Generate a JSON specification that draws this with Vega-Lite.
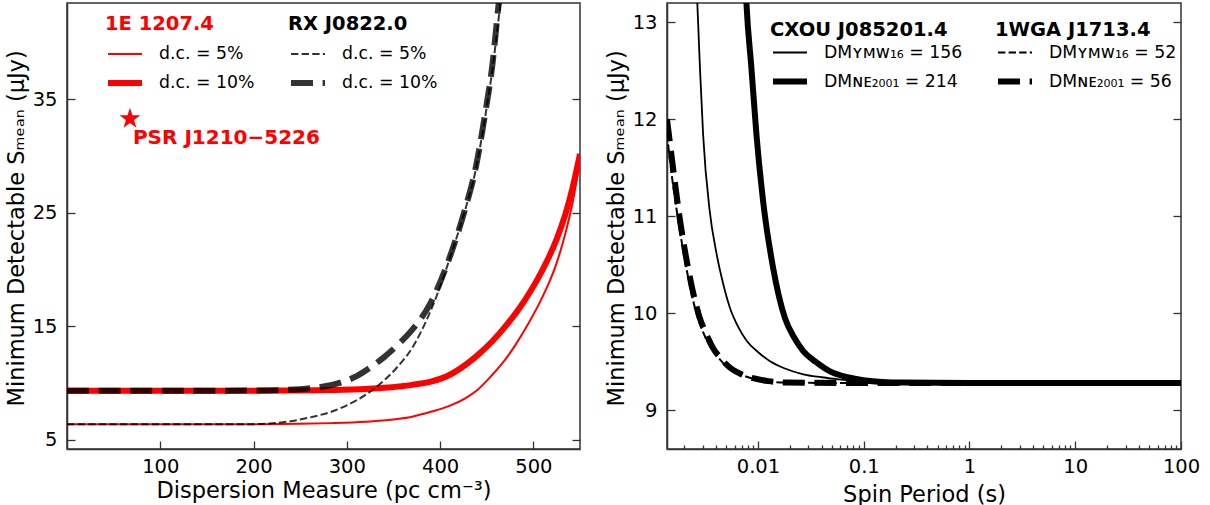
{
  "$schema": "https://vega.github.io/schema/vega-lite/v6.json",
  "padding": {"top": 2, "left": 4, "right": 0, "bottom": 0},
  "spacing": 22,
  "datasets": {
    "left": [
      {"src": "1E 1207.4", "dc": "d.c. = 5%", "dm": 0, "s": 6.37},
      {"src": "1E 1207.4", "dc": "d.c. = 5%", "dm": 100, "s": 6.37},
      {"src": "1E 1207.4", "dc": "d.c. = 5%", "dm": 200, "s": 6.38},
      {"src": "1E 1207.4", "dc": "d.c. = 5%", "dm": 250, "s": 6.42},
      {"src": "1E 1207.4", "dc": "d.c. = 5%", "dm": 284, "s": 6.48},
      {"src": "1E 1207.4", "dc": "d.c. = 5%", "dm": 320, "s": 6.6},
      {"src": "1E 1207.4", "dc": "d.c. = 5%", "dm": 350, "s": 6.8},
      {"src": "1E 1207.4", "dc": "d.c. = 5%", "dm": 370, "s": 7.05},
      {"src": "1E 1207.4", "dc": "d.c. = 5%", "dm": 391, "s": 7.5},
      {"src": "1E 1207.4", "dc": "d.c. = 5%", "dm": 410, "s": 8.0},
      {"src": "1E 1207.4", "dc": "d.c. = 5%", "dm": 427, "s": 8.67},
      {"src": "1E 1207.4", "dc": "d.c. = 5%", "dm": 440, "s": 9.4},
      {"src": "1E 1207.4", "dc": "d.c. = 5%", "dm": 456, "s": 10.74},
      {"src": "1E 1207.4", "dc": "d.c. = 5%", "dm": 470, "s": 12.1},
      {"src": "1E 1207.4", "dc": "d.c. = 5%", "dm": 481, "s": 13.4},
      {"src": "1E 1207.4", "dc": "d.c. = 5%", "dm": 490, "s": 14.6},
      {"src": "1E 1207.4", "dc": "d.c. = 5%", "dm": 498, "s": 15.75},
      {"src": "1E 1207.4", "dc": "d.c. = 5%", "dm": 508, "s": 17.3},
      {"src": "1E 1207.4", "dc": "d.c. = 5%", "dm": 516, "s": 18.7},
      {"src": "1E 1207.4", "dc": "d.c. = 5%", "dm": 525, "s": 20.6},
      {"src": "1E 1207.4", "dc": "d.c. = 5%", "dm": 534, "s": 23.1},
      {"src": "1E 1207.4", "dc": "d.c. = 5%", "dm": 542, "s": 25.9},
      {"src": "1E 1207.4", "dc": "d.c. = 5%", "dm": 550, "s": 29.6},
      {"src": "1E 1207.4", "dc": "d.c. = 10%", "dm": 0, "s": 9.33},
      {"src": "1E 1207.4", "dc": "d.c. = 10%", "dm": 100, "s": 9.33},
      {"src": "1E 1207.4", "dc": "d.c. = 10%", "dm": 200, "s": 9.34},
      {"src": "1E 1207.4", "dc": "d.c. = 10%", "dm": 250, "s": 9.36},
      {"src": "1E 1207.4", "dc": "d.c. = 10%", "dm": 284, "s": 9.4},
      {"src": "1E 1207.4", "dc": "d.c. = 10%", "dm": 320, "s": 9.49},
      {"src": "1E 1207.4", "dc": "d.c. = 10%", "dm": 345, "s": 9.62},
      {"src": "1E 1207.4", "dc": "d.c. = 10%", "dm": 370, "s": 9.85},
      {"src": "1E 1207.4", "dc": "d.c. = 10%", "dm": 391, "s": 10.15},
      {"src": "1E 1207.4", "dc": "d.c. = 10%", "dm": 410, "s": 10.72},
      {"src": "1E 1207.4", "dc": "d.c. = 10%", "dm": 427, "s": 11.6},
      {"src": "1E 1207.4", "dc": "d.c. = 10%", "dm": 440, "s": 12.45},
      {"src": "1E 1207.4", "dc": "d.c. = 10%", "dm": 456, "s": 13.69},
      {"src": "1E 1207.4", "dc": "d.c. = 10%", "dm": 470, "s": 15.0},
      {"src": "1E 1207.4", "dc": "d.c. = 10%", "dm": 481, "s": 16.15},
      {"src": "1E 1207.4", "dc": "d.c. = 10%", "dm": 490, "s": 17.2},
      {"src": "1E 1207.4", "dc": "d.c. = 10%", "dm": 498, "s": 18.25},
      {"src": "1E 1207.4", "dc": "d.c. = 10%", "dm": 508, "s": 19.7},
      {"src": "1E 1207.4", "dc": "d.c. = 10%", "dm": 516, "s": 21.0},
      {"src": "1E 1207.4", "dc": "d.c. = 10%", "dm": 525, "s": 22.7},
      {"src": "1E 1207.4", "dc": "d.c. = 10%", "dm": 534, "s": 24.8},
      {"src": "1E 1207.4", "dc": "d.c. = 10%", "dm": 542, "s": 27.2},
      {"src": "1E 1207.4", "dc": "d.c. = 10%", "dm": 550, "s": 30.2},
      {"src": "RX J0822.0", "dc": "d.c. = 5%", "dm": 0, "s": 6.37},
      {"src": "RX J0822.0", "dc": "d.c. = 5%", "dm": 100, "s": 6.37},
      {"src": "RX J0822.0", "dc": "d.c. = 5%", "dm": 200, "s": 6.39},
      {"src": "RX J0822.0", "dc": "d.c. = 5%", "dm": 220, "s": 6.46},
      {"src": "RX J0822.0", "dc": "d.c. = 5%", "dm": 245, "s": 6.72},
      {"src": "RX J0822.0", "dc": "d.c. = 5%", "dm": 265, "s": 7.07},
      {"src": "RX J0822.0", "dc": "d.c. = 5%", "dm": 284, "s": 7.5},
      {"src": "RX J0822.0", "dc": "d.c. = 5%", "dm": 300, "s": 8.05},
      {"src": "RX J0822.0", "dc": "d.c. = 5%", "dm": 320, "s": 8.97},
      {"src": "RX J0822.0", "dc": "d.c. = 5%", "dm": 340, "s": 10.25},
      {"src": "RX J0822.0", "dc": "d.c. = 5%", "dm": 355, "s": 11.5},
      {"src": "RX J0822.0", "dc": "d.c. = 5%", "dm": 370, "s": 13.1},
      {"src": "RX J0822.0", "dc": "d.c. = 5%", "dm": 380, "s": 14.6},
      {"src": "RX J0822.0", "dc": "d.c. = 5%", "dm": 390, "s": 16.4},
      {"src": "RX J0822.0", "dc": "d.c. = 5%", "dm": 400, "s": 18.5},
      {"src": "RX J0822.0", "dc": "d.c. = 5%", "dm": 412, "s": 21.4},
      {"src": "RX J0822.0", "dc": "d.c. = 5%", "dm": 427, "s": 25.3},
      {"src": "RX J0822.0", "dc": "d.c. = 5%", "dm": 438, "s": 28.7},
      {"src": "RX J0822.0", "dc": "d.c. = 5%", "dm": 448, "s": 33.3},
      {"src": "RX J0822.0", "dc": "d.c. = 5%", "dm": 456, "s": 37.6},
      {"src": "RX J0822.0", "dc": "d.c. = 5%", "dm": 464, "s": 43.0},
      {"src": "RX J0822.0", "dc": "d.c. = 5%", "dm": 468, "s": 45.8},
      {"src": "RX J0822.0", "dc": "d.c. = 10%", "dm": 0, "s": 9.33},
      {"src": "RX J0822.0", "dc": "d.c. = 10%", "dm": 100, "s": 9.33},
      {"src": "RX J0822.0", "dc": "d.c. = 10%", "dm": 200, "s": 9.35},
      {"src": "RX J0822.0", "dc": "d.c. = 10%", "dm": 230, "s": 9.39},
      {"src": "RX J0822.0", "dc": "d.c. = 10%", "dm": 250, "s": 9.47},
      {"src": "RX J0822.0", "dc": "d.c. = 10%", "dm": 270, "s": 9.64},
      {"src": "RX J0822.0", "dc": "d.c. = 10%", "dm": 284, "s": 9.85},
      {"src": "RX J0822.0", "dc": "d.c. = 10%", "dm": 295, "s": 10.1},
      {"src": "RX J0822.0", "dc": "d.c. = 10%", "dm": 310, "s": 10.6},
      {"src": "RX J0822.0", "dc": "d.c. = 10%", "dm": 320, "s": 11.1},
      {"src": "RX J0822.0", "dc": "d.c. = 10%", "dm": 340, "s": 12.3},
      {"src": "RX J0822.0", "dc": "d.c. = 10%", "dm": 355, "s": 13.4},
      {"src": "RX J0822.0", "dc": "d.c. = 10%", "dm": 370, "s": 14.7},
      {"src": "RX J0822.0", "dc": "d.c. = 10%", "dm": 380, "s": 15.75},
      {"src": "RX J0822.0", "dc": "d.c. = 10%", "dm": 390, "s": 17.1},
      {"src": "RX J0822.0", "dc": "d.c. = 10%", "dm": 398, "s": 18.5},
      {"src": "RX J0822.0", "dc": "d.c. = 10%", "dm": 412, "s": 21.5},
      {"src": "RX J0822.0", "dc": "d.c. = 10%", "dm": 427, "s": 25.4},
      {"src": "RX J0822.0", "dc": "d.c. = 10%", "dm": 438, "s": 28.9},
      {"src": "RX J0822.0", "dc": "d.c. = 10%", "dm": 448, "s": 33.6},
      {"src": "RX J0822.0", "dc": "d.c. = 10%", "dm": 456, "s": 38.0},
      {"src": "RX J0822.0", "dc": "d.c. = 10%", "dm": 463, "s": 43.6},
      {"src": "RX J0822.0", "dc": "d.c. = 10%", "dm": 467, "s": 46.5}
    ],
    "star": [
      {"name": "PSR J1210−5226", "dm": 67.5, "s": 33.3}
    ],
    "right": [
      {"src": "CXOU J085201.4", "model": "DMʏᴍᴡ₁₆ = 156", "p": 0.0026, "s": 13.6},
      {"src": "CXOU J085201.4", "model": "DMʏᴍᴡ₁₆ = 156", "p": 0.00267, "s": 13.2},
      {"src": "CXOU J085201.4", "model": "DMʏᴍᴡ₁₆ = 156", "p": 0.00285, "s": 12.45},
      {"src": "CXOU J085201.4", "model": "DMʏᴍᴡ₁₆ = 156", "p": 0.00303, "s": 11.84},
      {"src": "CXOU J085201.4", "model": "DMʏᴍᴡ₁₆ = 156", "p": 0.0035, "s": 11.05},
      {"src": "CXOU J085201.4", "model": "DMʏᴍᴡ₁₆ = 156", "p": 0.00405, "s": 10.62},
      {"src": "CXOU J085201.4", "model": "DMʏᴍᴡ₁₆ = 156", "p": 0.0047, "s": 10.3},
      {"src": "CXOU J085201.4", "model": "DMʏᴍᴡ₁₆ = 156", "p": 0.00542, "s": 10.06},
      {"src": "CXOU J085201.4", "model": "DMʏᴍᴡ₁₆ = 156", "p": 0.0065, "s": 9.86},
      {"src": "CXOU J085201.4", "model": "DMʏᴍᴡ₁₆ = 156", "p": 0.00778, "s": 9.72},
      {"src": "CXOU J085201.4", "model": "DMʏᴍᴡ₁₆ = 156", "p": 0.01, "s": 9.6},
      {"src": "CXOU J085201.4", "model": "DMʏᴍᴡ₁₆ = 156", "p": 0.013, "s": 9.505},
      {"src": "CXOU J085201.4", "model": "DMʏᴍᴡ₁₆ = 156", "p": 0.018, "s": 9.43},
      {"src": "CXOU J085201.4", "model": "DMʏᴍᴡ₁₆ = 156", "p": 0.0268, "s": 9.37},
      {"src": "CXOU J085201.4", "model": "DMʏᴍᴡ₁₆ = 156", "p": 0.04, "s": 9.34},
      {"src": "CXOU J085201.4", "model": "DMʏᴍᴡ₁₆ = 156", "p": 0.0554, "s": 9.32},
      {"src": "CXOU J085201.4", "model": "DMʏᴍᴡ₁₆ = 156", "p": 0.1, "s": 9.3},
      {"src": "CXOU J085201.4", "model": "DMʏᴍᴡ₁₆ = 156", "p": 0.3, "s": 9.285},
      {"src": "CXOU J085201.4", "model": "DMʏᴍᴡ₁₆ = 156", "p": 1, "s": 9.28},
      {"src": "CXOU J085201.4", "model": "DMʏᴍᴡ₁₆ = 156", "p": 100, "s": 9.28},
      {"src": "CXOU J085201.4", "model": "DMɴᴇ₂₀₀₁ = 214", "p": 0.0075, "s": 13.6},
      {"src": "CXOU J085201.4", "model": "DMɴᴇ₂₀₀₁ = 214", "p": 0.00778, "s": 13.2},
      {"src": "CXOU J085201.4", "model": "DMɴᴇ₂₀₀₁ = 214", "p": 0.00867, "s": 12.53},
      {"src": "CXOU J085201.4", "model": "DMɴᴇ₂₀₀₁ = 214", "p": 0.00968, "s": 11.84},
      {"src": "CXOU J085201.4", "model": "DMɴᴇ₂₀₀₁ = 214", "p": 0.0112, "s": 11.15},
      {"src": "CXOU J085201.4", "model": "DMɴᴇ₂₀₀₁ = 214", "p": 0.0139, "s": 10.47},
      {"src": "CXOU J085201.4", "model": "DMɴᴇ₂₀₀₁ = 214", "p": 0.018, "s": 9.95},
      {"src": "CXOU J085201.4", "model": "DMɴᴇ₂₀₀₁ = 214", "p": 0.022, "s": 9.75},
      {"src": "CXOU J085201.4", "model": "DMɴᴇ₂₀₀₁ = 214", "p": 0.0268, "s": 9.61},
      {"src": "CXOU J085201.4", "model": "DMɴᴇ₂₀₀₁ = 214", "p": 0.035, "s": 9.5},
      {"src": "CXOU J085201.4", "model": "DMɴᴇ₂₀₀₁ = 214", "p": 0.048, "s": 9.4},
      {"src": "CXOU J085201.4", "model": "DMɴᴇ₂₀₀₁ = 214", "p": 0.07, "s": 9.34},
      {"src": "CXOU J085201.4", "model": "DMɴᴇ₂₀₀₁ = 214", "p": 0.099, "s": 9.31},
      {"src": "CXOU J085201.4", "model": "DMɴᴇ₂₀₀₁ = 214", "p": 0.237, "s": 9.285},
      {"src": "CXOU J085201.4", "model": "DMɴᴇ₂₀₀₁ = 214", "p": 1, "s": 9.28},
      {"src": "CXOU J085201.4", "model": "DMɴᴇ₂₀₀₁ = 214", "p": 100, "s": 9.28},
      {"src": "1WGA J1713.4", "model": "DMʏᴍᴡ₁₆ = 52", "p": 0.00138, "s": 11.85},
      {"src": "1WGA J1713.4", "model": "DMʏᴍᴡ₁₆ = 52", "p": 0.0015, "s": 11.5},
      {"src": "1WGA J1713.4", "model": "DMʏᴍᴡ₁₆ = 52", "p": 0.00175, "s": 10.98},
      {"src": "1WGA J1713.4", "model": "DMʏᴍᴡ₁₆ = 52", "p": 0.0021, "s": 10.47},
      {"src": "1WGA J1713.4", "model": "DMʏᴍᴡ₁₆ = 52", "p": 0.0027, "s": 9.95},
      {"src": "1WGA J1713.4", "model": "DMʏᴍᴡ₁₆ = 52", "p": 0.0031, "s": 9.78},
      {"src": "1WGA J1713.4", "model": "DMʏᴍᴡ₁₆ = 52", "p": 0.0036, "s": 9.64},
      {"src": "1WGA J1713.4", "model": "DMʏᴍᴡ₁₆ = 52", "p": 0.0044, "s": 9.52},
      {"src": "1WGA J1713.4", "model": "DMʏᴍᴡ₁₆ = 52", "p": 0.0052, "s": 9.44},
      {"src": "1WGA J1713.4", "model": "DMʏᴍᴡ₁₆ = 52", "p": 0.0068, "s": 9.37},
      {"src": "1WGA J1713.4", "model": "DMʏᴍᴡ₁₆ = 52", "p": 0.0087, "s": 9.33},
      {"src": "1WGA J1713.4", "model": "DMʏᴍᴡ₁₆ = 52", "p": 0.012, "s": 9.3},
      {"src": "1WGA J1713.4", "model": "DMʏᴍᴡ₁₆ = 52", "p": 0.018, "s": 9.285},
      {"src": "1WGA J1713.4", "model": "DMʏᴍᴡ₁₆ = 52", "p": 0.1, "s": 9.28},
      {"src": "1WGA J1713.4", "model": "DMʏᴍᴡ₁₆ = 52", "p": 100, "s": 9.28},
      {"src": "1WGA J1713.4", "model": "DMɴᴇ₂₀₀₁ = 56", "p": 0.00138, "s": 12.0},
      {"src": "1WGA J1713.4", "model": "DMɴᴇ₂₀₀₁ = 56", "p": 0.001413, "s": 11.91},
      {"src": "1WGA J1713.4", "model": "DMɴᴇ₂₀₀₁ = 56", "p": 0.001574, "s": 11.5},
      {"src": "1WGA J1713.4", "model": "DMɴᴇ₂₀₀₁ = 56", "p": 0.00182, "s": 10.98},
      {"src": "1WGA J1713.4", "model": "DMɴᴇ₂₀₀₁ = 56", "p": 0.00218, "s": 10.47},
      {"src": "1WGA J1713.4", "model": "DMɴᴇ₂₀₀₁ = 56", "p": 0.00282, "s": 9.95},
      {"src": "1WGA J1713.4", "model": "DMɴᴇ₂₀₀₁ = 56", "p": 0.0032, "s": 9.8},
      {"src": "1WGA J1713.4", "model": "DMɴᴇ₂₀₀₁ = 56", "p": 0.00377, "s": 9.64},
      {"src": "1WGA J1713.4", "model": "DMɴᴇ₂₀₀₁ = 56", "p": 0.0045, "s": 9.53},
      {"src": "1WGA J1713.4", "model": "DMɴᴇ₂₀₀₁ = 56", "p": 0.00542, "s": 9.44},
      {"src": "1WGA J1713.4", "model": "DMɴᴇ₂₀₀₁ = 56", "p": 0.007, "s": 9.37},
      {"src": "1WGA J1713.4", "model": "DMɴᴇ₂₀₀₁ = 56", "p": 0.009, "s": 9.33},
      {"src": "1WGA J1713.4", "model": "DMɴᴇ₂₀₀₁ = 56", "p": 0.0125, "s": 9.3},
      {"src": "1WGA J1713.4", "model": "DMɴᴇ₂₀₀₁ = 56", "p": 0.0186, "s": 9.285},
      {"src": "1WGA J1713.4", "model": "DMɴᴇ₂₀₀₁ = 56", "p": 0.1, "s": 9.28},
      {"src": "1WGA J1713.4", "model": "DMɴᴇ₂₀₀₁ = 56", "p": 100, "s": 9.28}
    ]
  },
  "hconcat": [
    {
      "width": 513,
      "height": 446,
      "layer": [
        {
          "data": {"name": "left"},
          "transform": [{"filter": "datum.src === '1E 1207.4'"}],
          "mark": {"type": "line", "color": "#ff0000", "clip": true, "interpolate": "monotone"},
          "encoding": {
            "x": {"field": "dm", "type": "quantitative", "scale": {"domain": [0, 550], "nice": false, "zero": false},
                  "axis": {"values": [100, 200, 300, 400, 500], "title": "Dispersion Measure (pc cm⁻³)", "tickSize": -8, "labelPadding": 16, "titlePadding": 4}},
            "y": {"field": "s", "type": "quantitative", "scale": {"domain": [4.2, 43.5], "nice": false, "zero": false},
                  "axis": {"values": [5, 15, 25, 35], "title": "Minimum Detectable Sₘₑₐₙ (μJy)", "tickSize": -8, "labelPadding": 18, "titlePadding": 4,
                           "titleAnchor": "start", "titleAlign": "left", "titleY": 403}},
            "strokeWidth": {"field": "dc", "type": "ordinal",
                            "scale": {"type": "ordinal", "domain": ["d.c. = 5%", "d.c. = 10%"], "range": [2, 6]},
                            "legend": {"title": "1E 1207.4", "titleColor": "#ff0000", "orient": "none", "legendX": 38, "legendY": 12, "rowPadding": 0, "titlePadding": 1.5,
                                       "symbolType": "stroke", "symbolStrokeColor": "#ff0000", "symbolSize": 1156, "symbolOpacity": 1}}
          }
        },
        {
          "data": {"name": "left"},
          "transform": [{"filter": "datum.src === 'RX J0822.0'"}],
          "mark": {"type": "line", "color": "#000000", "opacity": 0.8, "clip": true, "interpolate": "monotone"},
          "encoding": {
            "x": {"field": "dm", "type": "quantitative"},
            "y": {"field": "s", "type": "quantitative", "scale": {"domain": [4.2, 43.5], "nice": false, "zero": false}, "axis": null},
            "strokeWidth": {"field": "dc", "type": "ordinal",
                            "scale": {"type": "ordinal", "domain": ["d.c. = 5%", "d.c. = 10%"], "range": [2, 6]},
                            "legend": {"title": "RX J0822.0", "orient": "none", "legendX": 221, "legendY": 12, "rowPadding": 0, "titlePadding": 1.5,
                                       "symbolType": "stroke", "symbolStrokeColor": "#333333", "symbolSize": 1156, "symbolOpacity": 1}},
            "strokeDash": {"field": "dc", "type": "ordinal",
                           "scale": {"domain": ["d.c. = 5%", "d.c. = 10%"], "range": [[7.4, 3.2], [22, 9.6]]},
                           "legend": {"title": "RX J0822.0", "orient": "none", "legendX": 221, "legendY": 12, "rowPadding": 0, "titlePadding": 1.5,
                                      "symbolType": "stroke", "symbolStrokeColor": "#333333", "symbolSize": 1156, "symbolOpacity": 1}}
          }
        },
        {
          "data": {"name": "star"},
          "mark": {"type": "point", "shape": "M0,-1L0.2245,-0.309L0.951,-0.309L0.363,0.118L0.588,0.809L0,0.382L-0.588,0.809L-0.363,0.118L-0.951,-0.309L-0.2245,-0.309Z", "filled": true, "color": "#ff0000", "size": 484, "opacity": 1},
          "encoding": {
            "x": {"field": "dm", "type": "quantitative"},
            "y": {"field": "s", "type": "quantitative", "scale": {"domain": [4.2, 43.5], "nice": false, "zero": false},
                  "axis": {"orient": "right", "values": [5, 15, 25, 35], "labels": false, "title": null, "tickSize": -8, "domain": false}}
          }
        },
        {
          "data": {"name": "star"},
          "mark": {"type": "text", "align": "left", "baseline": "middle", "dx": 3, "dy": 19, "fontSize": 20, "fontWeight": "bold", "color": "#ff0000"},
          "encoding": {
            "x": {"field": "dm", "type": "quantitative"},
            "y": {"field": "s", "type": "quantitative", "scale": {"domain": [4.2, 43.5], "nice": false, "zero": false}, "axis": null},
            "text": {"field": "name"}
          }
        }
      ],
      "resolve": {
        "scale": {"y": "independent", "strokeWidth": "independent", "strokeDash": "independent"},
        "legend": {"strokeWidth": "independent", "strokeDash": "independent"}
      }
    },
    {
      "width": 514,
      "height": 446,
      "layer": [
        {
          "data": {"name": "right"},
          "transform": [{"filter": "datum.src === 'CXOU J085201.4'"}],
          "mark": {"type": "line", "color": "#000000", "clip": true, "interpolate": "monotone"},
          "encoding": {
            "x": {"field": "p", "type": "quantitative", "scale": {"type": "log", "domain": [0.00138, 100], "nice": false},
                  "axis": {"values": [0.002, 0.003, 0.004, 0.005, 0.006, 0.007, 0.008, 0.009, 0.01, 0.02, 0.03, 0.04, 0.05, 0.06, 0.07, 0.08, 0.09, 0.1, 0.2, 0.3, 0.4, 0.5, 0.6, 0.7, 0.8, 0.9, 1, 2, 3, 4, 5, 6, 7, 8, 9, 10, 20, 30, 40, 50, 60, 70, 80, 90, 100],
                           "format": "~g",
                           "labelExpr": "indexof([0.01, 0.1, 1, 10, 100], datum.value) >= 0 ? datum.label : ''",
                           "tickSize": {"condition": {"test": "indexof([0.01, 0.1, 1, 10, 100], datum.value) >= 0", "value": -8}, "value": -4},
                           "title": "Spin Period (s)", "labelPadding": 16, "titlePadding": 4}},
            "y": {"field": "s", "type": "quantitative", "scale": {"domain": [8.6, 13.2], "nice": false, "zero": false},
                  "axis": {"values": [9, 10, 11, 12, 13], "title": "Minimum Detectable Sₘₑₐₙ (μJy)", "tickSize": -8, "labelPadding": 18, "titlePadding": 4,
                           "titleAnchor": "start", "titleAlign": "left", "titleY": 403}},
            "strokeWidth": {"field": "model", "type": "ordinal",
                            "scale": {"type": "ordinal", "domain": ["DMʏᴍᴡ₁₆ = 156", "DMɴᴇ₂₀₀₁ = 214"], "range": [1.8, 6]},
                            "legend": {"title": "CXOU J085201.4", "orient": "none", "legendX": 103, "legendY": 18, "rowPadding": 0, "titlePadding": -6,
                                       "symbolType": "stroke", "symbolStrokeColor": "#000000", "symbolSize": 1156, "symbolOpacity": 1}}
          }
        },
        {
          "data": {"name": "right"},
          "transform": [{"filter": "datum.src === '1WGA J1713.4'"}],
          "mark": {"type": "line", "color": "#000000", "clip": true, "interpolate": "monotone"},
          "encoding": {
            "x": {"field": "p", "type": "quantitative"},
            "y": {"field": "s", "type": "quantitative", "scale": {"domain": [8.6, 13.2], "nice": false, "zero": false},
                  "axis": {"orient": "right", "values": [9, 10, 11, 12, 13], "labels": false, "title": null, "tickSize": -8, "domain": false}},
            "strokeWidth": {"field": "model", "type": "ordinal",
                            "scale": {"type": "ordinal", "domain": ["DMʏᴍᴡ₁₆ = 52", "DMɴᴇ₂₀₀₁ = 56"], "range": [2, 6]},
                            "legend": {"title": "1WGA J1713.4", "orient": "none", "legendX": 328, "legendY": 18, "rowPadding": 0, "titlePadding": -6,
                                       "symbolType": "stroke", "symbolStrokeColor": "#000000", "symbolSize": 1156, "symbolOpacity": 1}},
            "strokeDash": {"field": "model", "type": "ordinal",
                           "scale": {"domain": ["DMʏᴍᴡ₁₆ = 52", "DMɴᴇ₂₀₀₁ = 56"], "range": [[7.4, 3.2], [22, 9.6]]},
                           "legend": {"title": "1WGA J1713.4", "orient": "none", "legendX": 328, "legendY": 18, "rowPadding": 0, "titlePadding": -6,
                                      "symbolType": "stroke", "symbolStrokeColor": "#000000", "symbolSize": 1156, "symbolOpacity": 1}}
          }
        }
      ],
      "resolve": {
        "scale": {"y": "independent", "strokeWidth": "independent", "strokeDash": "independent"},
        "legend": {"strokeWidth": "independent", "strokeDash": "independent"}
      }
    }
  ],
  "config": {
    "font": "DejaVu Sans",
    "view": {"stroke": "#333333", "strokeWidth": 1.5},
    "axis": {"grid": false, "domainColor": "#333333", "domainWidth": 1.5, "tickColor": "#333333", "tickWidth": 1.3,
             "labelFont": "DejaVu Sans", "labelFontSize": 19.5, "labelColor": "#000000",
             "titleFont": "DejaVu Sans, Noto Sans", "titleFontSize": 22.5, "titleFontWeight": "normal", "titleColor": "#000000",
             "labelFlush": false, "labelOverlap": false},
    "legend": {"padding": 0, "labelFont": "DejaVu Sans, Noto Sans", "labelFontSize": 17.3, "labelColor": "#000000", "labelLimit": 400,
               "titleFont": "DejaVu Sans", "titleFontSize": 19.5, "titleFontWeight": "bold", "titleColor": "#000000", "titleLimit": 400,
               "labelOffset": 14, "titlePadding": 0}
  }
}
